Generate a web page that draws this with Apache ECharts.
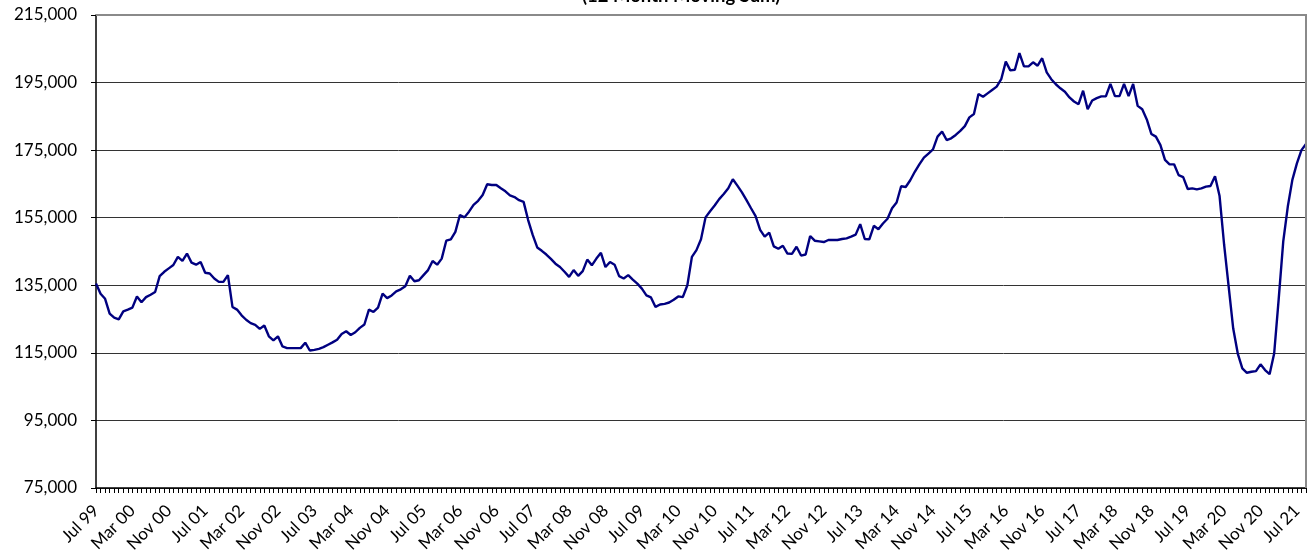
<!DOCTYPE html>
<html>
<head>
<meta charset="utf-8">
<script src="https://cdn.jsdelivr.net/npm/echarts@6/dist/echarts.min.js"></script>
<style>
html,body{margin:0;padding:0;background:#fff;}
#chart{width:1314px;height:560px;}
</style>
</head>
<body>
<div id="chart"></div>
<script>
// Month names used to build the category labels (Jul 99 .. Sep 21)
const monthNames = ['Jan','Feb','Mar','Apr','May','Jun','Jul','Aug','Sep','Oct','Nov','Dec'];
const startYear = 1999, startMonth = 6, monthCount = 267;
const categories = [];
for (let k = 0; k < monthCount; k++) {
  const m = (startMonth + k) % 12;
  const y = startYear + Math.floor((startMonth + k) / 12);
  categories.push(monthNames[m] + ' ' + String(y % 100).padStart(2, '0'));
}

// 12 month moving sum values
const movingSum = [
135500,132500,131000,126600,125400,124900,127300,127800,128400,131700,
130000,131500,132200,133000,137700,139000,140000,141000,143400,142200,
144400,141700,141100,141900,138700,138500,137000,136000,136000,138000,
128600,127800,126100,124800,123800,123300,122100,123100,119900,118700,
119900,116900,116400,116400,116400,116400,118000,115700,115900,116200,
116700,117400,118100,118900,120600,121400,120300,121100,122400,123400,
127800,127100,128400,132500,131200,132000,133200,133800,134700,137800,
136200,136500,138000,139500,142200,141100,142900,148200,148600,150800,
155800,155100,156800,158800,160000,161700,164900,164700,164700,163700,
162800,161600,161100,160200,159700,154300,149900,146200,145200,144100,
142800,141400,140400,139000,137500,139500,137800,139200,142600,140900,
142900,144600,140400,141900,141100,137700,137000,138000,136700,135500,
134000,132000,131400,128600,129300,129500,129900,130700,131700,131500,
135000,143400,145400,148600,155100,156900,158600,160500,162000,163700,
166400,164500,162500,160200,157800,155500,151400,149400,150600,146500,
145800,146700,144400,144300,146400,143800,144100,149600,148200,148000,
147800,148400,148400,148400,148700,148900,149400,150000,153100,148700,
148600,152600,151600,153300,154700,157800,159500,164300,164100,166100,
168600,170800,172800,174000,175200,179000,180500,178000,178500,179500,
180700,182100,184700,185700,191600,190800,191800,192800,193800,196000,
201200,198600,198800,203700,199800,199800,201000,200000,202200,198000,
196000,194500,193300,192300,190600,189400,188600,192600,187100,189700,
190400,190900,190900,194600,191000,191000,194600,191000,194600,188100,
187100,184100,179800,179000,176500,172100,170800,170800,167600,167000,
163500,163700,163400,163700,164200,164400,167300,161400,147000,134600,
122200,114800,110400,109100,109400,109600,111600,109900,108700,114800,
131000,148000,158300,166200,171100,175000,176800
];

const yMin = 75000, yMax = 215000, yStep = 20000;
const subtitle = '(12 Month Moving Sum)';

const FONT = 'Lato, "Open Sans", sans-serif';
const chart = echarts.init(document.getElementById('chart'), null, {renderer: 'canvas'});
chart.setOption({
  animation: false,
  backgroundColor: '#ffffff',
  grid: {left: 96, right: 8, top: 15, bottom: 72, containLabel: false},
  graphic: [
    {type: 'text', left: 582, top: -13, z: 10,
     style: {text: subtitle, font: 'bold 18.5px ' + FONT, fill: '#000'}},
    {type: 'polyline', z: 50, silent: true,
     shape: {points: [[96, 15], [1306, 15], [1306, 488]]},
     style: {stroke: '#8a8a8a', lineWidth: 2, fill: null}}
  ],
  xAxis: {
    type: 'category',
    data: categories,
    boundaryGap: false,
    axisLine: {show: true, lineStyle: {color: '#000', width: 1.5}},
    axisTick: {show: true, interval: 0, length: 5, inside: false, lineStyle: {color: '#000', width: 1}},
    axisLabel: {interval: 7, rotate: 45, margin: 20, color: '#000', fontFamily: FONT, fontSize: 17},
    splitLine: {show: false}
  },
  yAxis: {
    type: 'value',
    min: yMin, max: yMax, interval: yStep,
    axisLine: {show: true, lineStyle: {color: '#000', width: 1.5}},
    axisTick: {show: true, length: 5, inside: false, lineStyle: {color: '#000'}},
    axisLabel: {
      margin: 19, color: '#000', fontFamily: FONT, fontSize: 17,
      formatter: v => v.toLocaleString('en-US')
    },
    splitLine: {show: true, lineStyle: {color: '#333', width: 1}}
  },
  series: [{
    type: 'line',
    data: movingSum,
    showSymbol: false,
    symbol: 'none',
    lineStyle: {color: '#000080', width: 2.4},
    z: 5
  }]
});
</script>
</body>
</html>
